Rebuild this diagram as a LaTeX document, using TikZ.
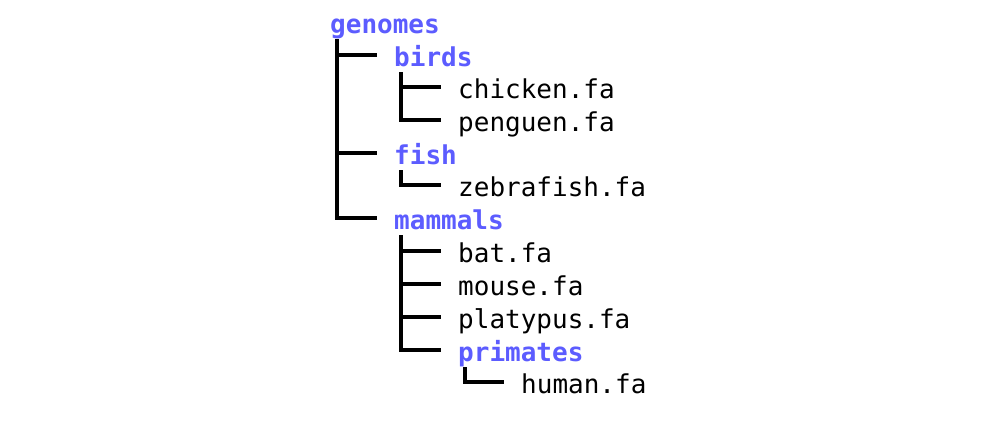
\documentclass[tikz,border=0pt]{standalone}
\usepackage{fontspec}
\setmonofont{DejaVu Sans Mono}
\usetikzlibrary{calc}
\definecolor{dircol}{RGB}{92,92,255}
\tikzset{
  entry/.style={anchor=base west, inner sep=0pt, font=\fontsize{26}{30}\selectfont\ttfamily},
  filenode/.style={entry, text=black},
  dirnode/.style={entry, text=dircol, font=\fontsize{26}{30}\selectfont\ttfamily\bfseries},
  treeline/.style={draw=black, line width=3.5pt, line cap=butt, line join=miter},
}
\begin{document}
\begin{tikzpicture}[x=1pt, y=-1pt]
  \useasboundingbox[fill=white] (0,0) rectangle (1000,424);

  % directory tree entries
  \node[dirnode]  (genomes)   at (330,33)  {genomes};
  \node[dirnode]  (birds)     at (394,66)  {birds};
  \node[filenode] (chicken)   at (458,98)  {chicken.fa};
  \node[filenode] (penguen)   at (458,131) {penguen.fa};
  \node[dirnode]  (fish)      at (394,164) {fish};
  \node[filenode] (zebrafish) at (458,196) {zebrafish.fa};
  \node[dirnode]  (mammals)   at (394,229) {mammals};
  \node[filenode] (bat)       at (458,262) {bat.fa};
  \node[filenode] (mouse)     at (458,295) {mouse.fa};
  \node[filenode] (platypus)  at (458,328) {platypus.fa};
  \node[dirnode]  (primates)  at (458,361) {primates};
  \node[filenode] (human)     at (521,393) {human.fa};

  % vertical trunk of each directory
  \foreach \d in {genomes,birds,fish,mammals,primates}
    \coordinate (\d-v) at ($(\d.base west)+(7,6)$);

  % end point of the branch leading into each entry
  \foreach \c in {birds,chicken,penguen,fish,zebrafish,mammals,bat,mouse,platypus,primates,human}
    \coordinate (\c-b) at ($(\c.base west)+(-17,-11)$);

  % trunks ending in the last child's elbow
  \draw[treeline] (genomes-v)  |- (mammals-b);
  \draw[treeline] (birds-v)    |- (penguen-b);
  \draw[treeline] (fish-v)     |- (zebrafish-b);
  \draw[treeline] (mammals-v)  |- (primates-b);
  \draw[treeline] (primates-v) |- (human-b);

  % remaining side branches
  \draw[treeline] (genomes-v |- birds-b)   -- (birds-b);
  \draw[treeline] (genomes-v |- fish-b)    -- (fish-b);
  \draw[treeline] (birds-v |- chicken-b)   -- (chicken-b);
  \draw[treeline] (mammals-v |- bat-b)      -- (bat-b);
  \draw[treeline] (mammals-v |- mouse-b)    -- (mouse-b);
  \draw[treeline] (mammals-v |- platypus-b) -- (platypus-b);
\end{tikzpicture}
\end{document}
